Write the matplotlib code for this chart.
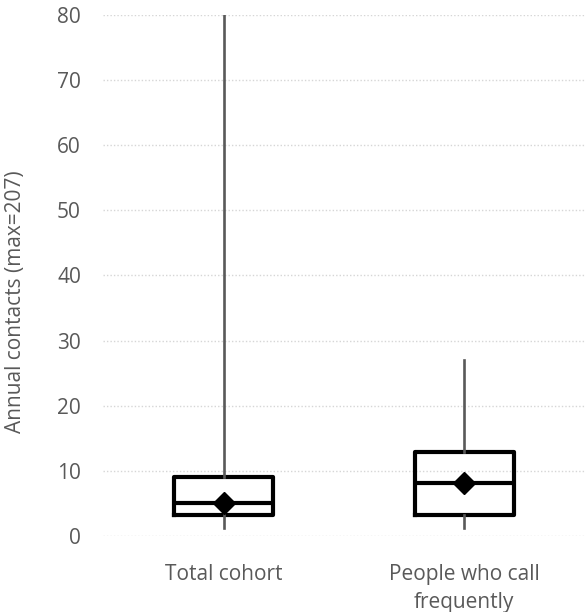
import matplotlib.pyplot as plt

plt.rcParams['font.family'] = ['Open Sans', 'DejaVu Sans']

# box statistics
groups = ['Total cohort', 'People who call\nfrequently']
whislo = [1.2, 1.2]
q1 = [3.2, 3.3]
med = [5.1, 8.2]
q3 = [9.1, 12.9]
whishi = [207, 27]
means = [5.1, 8.1]

stats = []
for i, name in enumerate(groups):
    stats.append(dict(label=name, whislo=whislo[i], q1=q1[i], med=med[i],
                      q3=q3[i], whishi=whishi[i], mean=means[i], fliers=[]))

fig = plt.figure(figsize=(5.86, 6.12), dpi=100)
ax = fig.add_axes([0.176, 0.124, 0.822, 0.852])

ax.bxp(stats, positions=[1, 2], widths=0.41, showmeans=True, showcaps=False,
       showfliers=False, patch_artist=False,
       boxprops=dict(color='black', linewidth=3),
       medianprops=dict(color='black', linewidth=3),
       whiskerprops=dict(color='#595959', linewidth=1.9),
       meanprops=dict(marker='D', markerfacecolor='black',
                      markeredgecolor='black', markersize=11.5))

ax.set_xlim(0.5, 2.5)
ax.set_ylim(0, 80)
ax.set_yticks(range(0, 81, 10))
ax.yaxis.grid(True, linestyle=(0, (1, 1.5)), color='#d6d6d6', linewidth=1)
ax.set_axisbelow(True)
for s in ax.spines.values():
    s.set_visible(False)
ax.tick_params(length=0, labelsize=15, colors='#595959', pad=16)
ax.tick_params(axis='x', pad=20)
for lab in ax.get_xticklabels():
    lab.set_linespacing(1.45)
ax.set_ylabel('Annual contacts (max=207)', fontsize=15, color='#595959',
              labelpad=22, y=0.45)

fig.savefig('out.png', dpi=100)
